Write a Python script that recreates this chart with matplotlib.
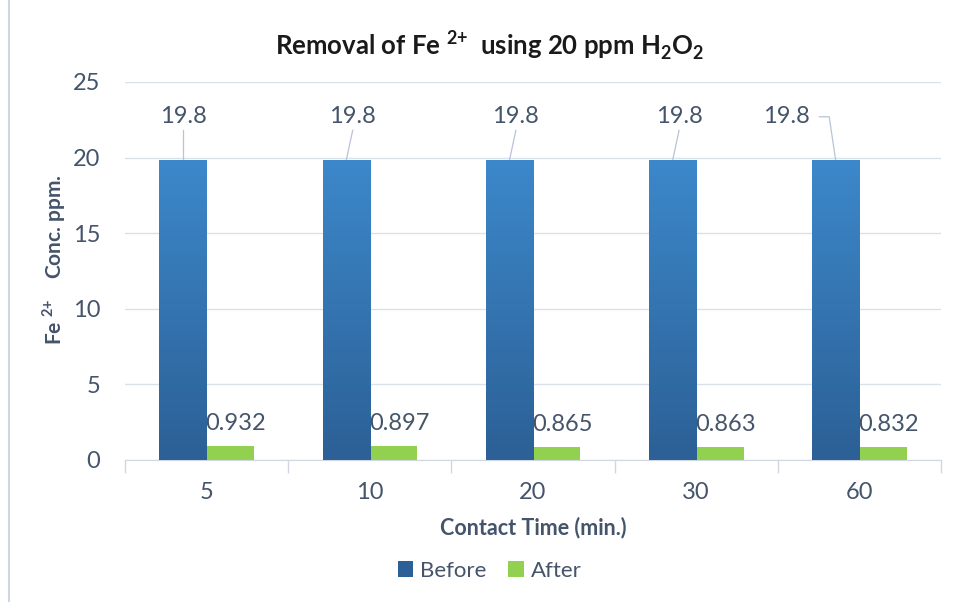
import numpy as np
import matplotlib
matplotlib.use("Agg")
from matplotlib import pyplot as plt
from matplotlib.lines import Line2D
from matplotlib.patches import Patch

# chart data
times = ["5", "10", "20", "30", "60"]
before = [19.8, 19.8, 19.8, 19.8, 19.8]
after = [0.932, 0.897, 0.865, 0.863, 0.832]
before_labels = ["19.8", "19.8", "19.8", "19.8", "19.8"]
after_labels = ["0.932", "0.897", "0.865", "0.863", "0.832"]

plt.rcParams['font.family'] = ['Lato', 'DejaVu Sans']
plt.rcParams['mathtext.fontset'] = 'custom'
plt.rcParams['mathtext.rm'] = 'Lato'
plt.rcParams['mathtext.bf'] = 'Lato:bold'

txt = "#44546a"
grid = "#d9e1ec"
blue_top = "#3c88ca"
blue_bot = "#2c6096"
green = "#92d050"

fig = plt.figure(figsize=(9.56, 6.02), dpi=100)
ax = fig.add_axes([0.1308, 0.2359, 0.8535, 0.6279])

x = np.arange(len(times))
w = 0.29
b1 = ax.bar(x - w / 2, before, w, color=blue_top, zorder=2)
b2 = ax.bar(x + w / 2, after, w, color=green, zorder=2)

# vertical gradient on the blue bars
grad = np.linspace(0, 1, 256).reshape(-1, 1)
cmap = matplotlib.colors.LinearSegmentedColormap.from_list("bl", [blue_bot, blue_top])
for r in b1:
    x0 = r.get_x()
    ax.imshow(grad, extent=[x0, x0 + r.get_width(), 0, r.get_height()],
              origin="lower", aspect="auto", cmap=cmap, zorder=3)

ax.set_xlim(-0.5, len(times) - 0.5)
ax.set_ylim(0, 25)
ax.set_yticks([0, 5, 10, 15, 20, 25])
ax.set_xticks(x)
ax.set_xticklabels(times)
ax.set_xticks(np.arange(-0.5, len(times), 1), minor=True)
ax.tick_params(axis="x", which="major", length=0, pad=16, labelsize=17, colors=txt)
ax.tick_params(axis="x", which="minor", length=9, width=1, color="#d0d7e2")
ax.tick_params(axis="y", length=0, pad=18, labelsize=17, colors=txt)
ax.yaxis.grid(True, color=grid, linewidth=1)
ax.set_axisbelow(True)
for s in ["top", "right", "left"]:
    ax.spines[s].set_visible(False)
ax.spines["bottom"].set_color("#d0d7e2")

# data labels for the "before" bars, with leader lines
lab_dx = [0.0, 0.04, 0.04, 0.04, -0.3]
for i, (v, s) in enumerate(zip(before, before_labels)):
    bx = x[i] - w / 2
    tx = bx + lab_dx[i]
    ax.text(tx, 22.7, s, ha="center", va="center", fontsize=17, color=txt)
    if i == len(times) - 1:
        ax.plot([tx + 0.2, tx + 0.26, bx], [22.7, 22.7, v], color="#b8c4d6", lw=0.9, zorder=1)
    else:
        ax.plot([tx, bx], [21.8, v], color="#b8c4d6", lw=0.9, zorder=1)

for i, (v, s) in enumerate(zip(after, after_labels)):
    ax.text(x[i] + w / 2 + 0.035, v + 1.5, s, ha="center", va="center", fontsize=17, color=txt)

ax.set_xlabel("Contact Time (min.)", fontsize=15.5, fontweight="bold", color=txt, labelpad=10)
ax.set_ylabel(r"Fe $^{\mathregular{2{+}}}$    Conc. ppm.", fontsize=15, fontweight="bold", color=txt)
ax.yaxis.set_label_coords(-0.07, 0.53)

fig.text(0.512, 0.925, r"Removal of Fe $^{\mathregular{2{+}}}$  using 20 ppm H$_\mathregular{2}$O$_\mathregular{2}$",
         ha="center", va="center", fontsize=18.5, fontweight="bold", color="#1a1a1a")

handles = [Patch(facecolor=blue_bot, edgecolor="none"), Patch(facecolor=green, edgecolor="none")]
fig.legend(handles, ["Before", "After"], loc="center", bbox_to_anchor=(0.512, 0.052), ncol=2,
           frameon=False, fontsize=16, labelcolor=txt, handlelength=0.7, handleheight=0.7,
           handletextpad=0.3, columnspacing=1.0)

# left edge of the chart frame
fig.add_artist(Line2D([0.009, 0.009], [0, 1], transform=fig.transFigure, color="#d0d7e2", lw=1.5))

fig.savefig("out.png", dpi=100)
